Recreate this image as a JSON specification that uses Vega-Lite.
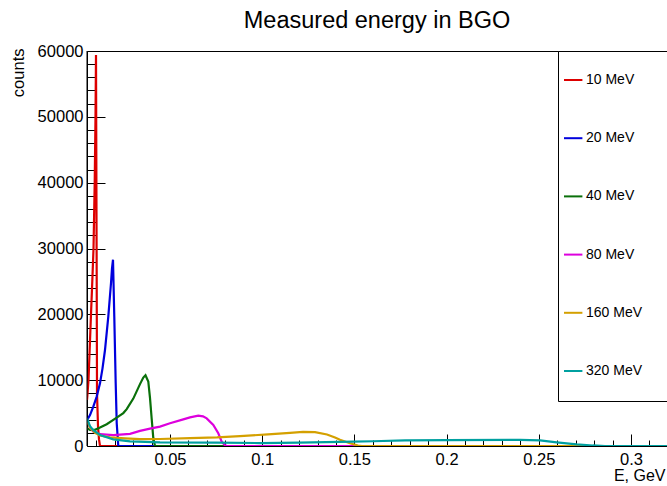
{
 "$schema": "https://vega.github.io/schema/vega-lite/v6.json",
 "width": 580,
 "height": 395,
 "autosize": {"type": "none"},
 "padding": {"left": 87, "top": 51, "right": 0, "bottom": 40},
 "background": "white",
 "config": {"view": {"stroke": null}, "font": "Liberation Sans"},
 "title": {"text": "Measured energy in BGO", "fontSize": 23.5, "fontWeight": "normal", "font": "Liberation Sans", "color": "black", "anchor": "middle", "frame": "group", "baseline": "alphabetic", "offset": -8},
 "data": {"values": [
  {"s": "10 MeV", "e": 0.005, "n": 7000},
  {"s": "10 MeV", "e": 0.00516, "n": 7500},
  {"s": "10 MeV", "e": 0.00581, "n": 10000},
  {"s": "10 MeV", "e": 0.00663, "n": 16000},
  {"s": "10 MeV", "e": 0.00717, "n": 20000},
  {"s": "10 MeV", "e": 0.00787, "n": 25000},
  {"s": "10 MeV", "e": 0.00853, "n": 30000},
  {"s": "10 MeV", "e": 0.00918, "n": 40000},
  {"s": "10 MeV", "e": 0.00961, "n": 50000},
  {"s": "10 MeV", "e": 0.00988, "n": 59400},
  {"s": "10 MeV", "e": 0.01021, "n": 30000},
  {"s": "10 MeV", "e": 0.01043, "n": 8000},
  {"s": "10 MeV", "e": 0.01097, "n": 3000},
  {"s": "10 MeV", "e": 0.01151, "n": 1000},
  {"s": "10 MeV", "e": 0.01205, "n": 0},
  {"s": "10 MeV", "e": 0.33, "n": 0},
  {"s": "20 MeV", "e": 0.005, "n": 3900},
  {"s": "20 MeV", "e": 0.00663, "n": 4700},
  {"s": "20 MeV", "e": 0.00842, "n": 5970},
  {"s": "20 MeV", "e": 0.01026, "n": 7500},
  {"s": "20 MeV", "e": 0.01205, "n": 9520},
  {"s": "20 MeV", "e": 0.01341, "n": 11800},
  {"s": "20 MeV", "e": 0.01476, "n": 14580},
  {"s": "20 MeV", "e": 0.01655, "n": 19640},
  {"s": "20 MeV", "e": 0.01802, "n": 24760},
  {"s": "20 MeV", "e": 0.01856, "n": 27000},
  {"s": "20 MeV", "e": 0.0191, "n": 28300},
  {"s": "20 MeV", "e": 0.0198, "n": 19640},
  {"s": "20 MeV", "e": 0.02056, "n": 9570},
  {"s": "20 MeV", "e": 0.02111, "n": 3490},
  {"s": "20 MeV", "e": 0.02197, "n": 0},
  {"s": "20 MeV", "e": 0.33, "n": 0},
  {"s": "40 MeV", "e": 0.005, "n": 2700},
  {"s": "40 MeV", "e": 0.00663, "n": 2450},
  {"s": "40 MeV", "e": 0.00934, "n": 2450},
  {"s": "40 MeV", "e": 0.01205, "n": 2800},
  {"s": "40 MeV", "e": 0.01568, "n": 3300},
  {"s": "40 MeV", "e": 0.02111, "n": 4300},
  {"s": "40 MeV", "e": 0.02469, "n": 5000},
  {"s": "40 MeV", "e": 0.02653, "n": 5600},
  {"s": "40 MeV", "e": 0.03011, "n": 7200},
  {"s": "40 MeV", "e": 0.03374, "n": 9400},
  {"s": "40 MeV", "e": 0.03553, "n": 10400},
  {"s": "40 MeV", "e": 0.03672, "n": 10750},
  {"s": "40 MeV", "e": 0.03824, "n": 9800},
  {"s": "40 MeV", "e": 0.03916, "n": 7300},
  {"s": "40 MeV", "e": 0.04009, "n": 4100},
  {"s": "40 MeV", "e": 0.04095, "n": 1200},
  {"s": "40 MeV", "e": 0.04188, "n": 0},
  {"s": "40 MeV", "e": 0.33, "n": 0},
  {"s": "80 MeV", "e": 0.005, "n": 4000},
  {"s": "80 MeV", "e": 0.00663, "n": 2800},
  {"s": "80 MeV", "e": 0.00842, "n": 2200},
  {"s": "80 MeV", "e": 0.01205, "n": 1800},
  {"s": "80 MeV", "e": 0.01926, "n": 1650},
  {"s": "80 MeV", "e": 0.02832, "n": 1850},
  {"s": "80 MeV", "e": 0.03374, "n": 2300},
  {"s": "80 MeV", "e": 0.03916, "n": 2650},
  {"s": "80 MeV", "e": 0.04459, "n": 2950},
  {"s": "80 MeV", "e": 0.05001, "n": 3450},
  {"s": "80 MeV", "e": 0.05722, "n": 4050},
  {"s": "80 MeV", "e": 0.06086, "n": 4350},
  {"s": "80 MeV", "e": 0.06536, "n": 4600},
  {"s": "80 MeV", "e": 0.06791, "n": 4500},
  {"s": "80 MeV", "e": 0.06991, "n": 4200},
  {"s": "80 MeV", "e": 0.07349, "n": 3200},
  {"s": "80 MeV", "e": 0.0762, "n": 1930},
  {"s": "80 MeV", "e": 0.07805, "n": 650},
  {"s": "80 MeV", "e": 0.07984, "n": 100},
  {"s": "80 MeV", "e": 0.08092, "n": 0},
  {"s": "80 MeV", "e": 0.33, "n": 0},
  {"s": "160 MeV", "e": 0.005, "n": 3900},
  {"s": "160 MeV", "e": 0.00663, "n": 2800},
  {"s": "160 MeV", "e": 0.00934, "n": 2000},
  {"s": "160 MeV", "e": 0.01205, "n": 1600},
  {"s": "160 MeV", "e": 0.01747, "n": 1300},
  {"s": "160 MeV", "e": 0.02561, "n": 1150},
  {"s": "160 MeV", "e": 0.03374, "n": 1050},
  {"s": "160 MeV", "e": 0.04459, "n": 1060},
  {"s": "160 MeV", "e": 0.06086, "n": 1200},
  {"s": "160 MeV", "e": 0.0755, "n": 1320},
  {"s": "160 MeV", "e": 0.08797, "n": 1500},
  {"s": "160 MeV", "e": 0.10316, "n": 1770},
  {"s": "160 MeV", "e": 0.11509, "n": 2000},
  {"s": "160 MeV", "e": 0.12214, "n": 2150},
  {"s": "160 MeV", "e": 0.12864, "n": 2100},
  {"s": "160 MeV", "e": 0.13515, "n": 1750},
  {"s": "160 MeV", "e": 0.13949, "n": 1300},
  {"s": "160 MeV", "e": 0.1422, "n": 950},
  {"s": "160 MeV", "e": 0.14762, "n": 420},
  {"s": "160 MeV", "e": 0.15196, "n": 50},
  {"s": "160 MeV", "e": 0.15413, "n": 0},
  {"s": "160 MeV", "e": 0.33, "n": 0},
  {"s": "320 MeV", "e": 0.005, "n": 4200},
  {"s": "320 MeV", "e": 0.00663, "n": 3000},
  {"s": "320 MeV", "e": 0.00842, "n": 2400},
  {"s": "320 MeV", "e": 0.01205, "n": 1670},
  {"s": "320 MeV", "e": 0.01926, "n": 1000},
  {"s": "320 MeV", "e": 0.02832, "n": 700},
  {"s": "320 MeV", "e": 0.04459, "n": 550},
  {"s": "320 MeV", "e": 0.0755, "n": 500},
  {"s": "320 MeV", "e": 0.09882, "n": 450},
  {"s": "320 MeV", "e": 0.12, "n": 520},
  {"s": "320 MeV", "e": 0.14925, "n": 650},
  {"s": "320 MeV", "e": 0.16, "n": 720},
  {"s": "320 MeV", "e": 0.1775, "n": 850},
  {"s": "320 MeV", "e": 0.2, "n": 900},
  {"s": "320 MeV", "e": 0.23982, "n": 930},
  {"s": "320 MeV", "e": 0.25066, "n": 850},
  {"s": "320 MeV", "e": 0.25972, "n": 550},
  {"s": "320 MeV", "e": 0.27056, "n": 250},
  {"s": "320 MeV", "e": 0.2794, "n": 80},
  {"s": "320 MeV", "e": 0.2859, "n": 0},
  {"s": "320 MeV", "e": 0.33, "n": 0}
 ]},
 "layer": [
  {
   "mark": {"type": "line", "strokeWidth": 2.2, "clip": true},
   "encoding": {
    "x": {"field": "e", "type": "quantitative",
     "scale": {"domain": [0.005, 0.31953], "nice": false, "zero": false},
     "axis": {"orient": "bottom", "title": "E, GeV",
      "values": [0.01,0.02,0.03,0.04,0.05,0.06,0.07,0.08,0.09,0.1,0.11,0.12,0.13,0.14,0.15,0.16,0.17,0.18,0.19,0.2,0.21,0.22,0.23,0.24,0.25,0.26,0.27,0.28,0.29,0.3,0.31],
      "labelExpr": "round(datum.value*100) % 5 === 0 ? format(datum.value, '.2~f') : ''",
      "tickSize": {"expr": "round(datum.value*100) % 5 === 0 ? -12 : -6"}, "ticks": true, "tickColor": "black", "tickWidth": 1,
      "domainColor": "black", "domainWidth": 1, "grid": false,
      "labelFont": "Liberation Sans", "labelFontSize": 16.5, "labelColor": "black", "labelPadding": 17,
      "labelOverlap": false, "labelFlush": false, "labelBound": false,
      "titleFont": "Liberation Sans", "titleFontSize": 16, "titleFontWeight": "normal", "titleColor": "black",
      "titleX": 578, "titleY": 34, "titleAlign": "right", "titleBaseline": "alphabetic", "titleAngle": 0}
    },
    "y": {"field": "n", "type": "quantitative",
     "scale": {"domain": [0, 60000], "nice": false},
     "axis": {"title": "counts",
      "values": [0,2000,4000,6000,8000,10000,12000,14000,16000,18000,20000,22000,24000,26000,28000,30000,32000,34000,36000,38000,40000,42000,44000,46000,48000,50000,52000,54000,56000,58000,60000],
      "labelExpr": "datum.value % 10000 === 0 ? '' + datum.value : ''",
      "tickSize": {"expr": "datum.value % 10000 === 0 ? -18 : -9"}, "ticks": true, "tickColor": "black", "tickWidth": 1,
      "domainColor": "black", "domainWidth": 1, "grid": false,
      "labelFont": "Liberation Sans", "labelFontSize": 16.5, "labelColor": "black", "labelPadding": 22,
      "labelOverlap": false, "labelFlush": false, "labelBound": false, "labelBaseline": "middle",
      "titleFont": "Liberation Sans", "titleFontSize": 16.5, "titleFontWeight": "normal", "titleColor": "black",
      "titleAngle": 270, "titleAlign": "right", "titleBaseline": "alphabetic", "titleX": -64, "titleY": -3}
    },
    "color": {"field": "s", "type": "nominal",
     "scale": {"domain": ["10 MeV", "20 MeV", "40 MeV", "80 MeV", "160 MeV", "320 MeV"],
               "range": ["#dd0000", "#0000dd", "#0a700a", "#dd00dd", "#d4a000", "#00a0a0"]},
     "legend": {"orient": "none", "legendX": 471, "legendY": 0,
      "title": "\u00a0\u00a0\u00a0\u00a0\u00a0\u00a0\u00a0\u00a0\u00a0\u00a0",
      "titleOrient": "bottom", "titleFontSize": 12, "titlePadding": 7, "titleLimit": 400,
      "symbolType": "M-1,0H-0.2M5,0", "symbolSize": 2116, "symbolStrokeWidth": 2,
      "labelFont": "Liberation Sans", "labelFontSize": 14, "labelColor": "black", "labelOffset": -25, "labelLimit": 300,
      "padding": 5, "rowPadding": 27.2, "strokeColor": "black", "fillColor": "white", "cornerRadius": 0}
    }
   }
  },
  {
   "data": {"values": [{}]},
   "mark": {"type": "rule", "color": "black", "strokeWidth": 1},
   "encoding": {
    "x": {"datum": 0.005, "type": "quantitative",
     "scale": {"domain": [0.005, 0.31953], "nice": false, "zero": false},
     "axis": {"orient": "top", "labels": false, "ticks": false, "title": null, "grid": false, "domainColor": "black", "domainWidth": 1}}
   }
  }
 ],
 "resolve": {"axis": {"x": "independent"}}
}
